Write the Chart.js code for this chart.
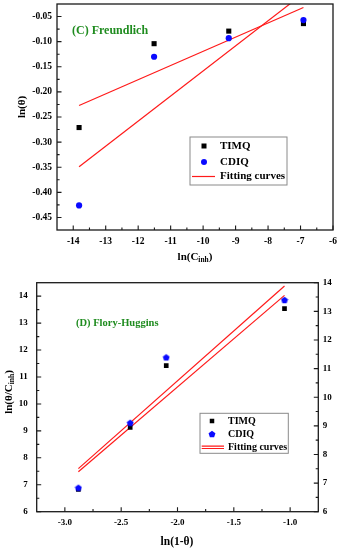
<!DOCTYPE html>
<html>
<head>
<meta charset="utf-8">
<script src="https://cdn.jsdelivr.net/npm/chart.js@4.4.1/dist/chart.umd.min.js"></script>
<style>
  html, body { margin:0; padding:0; background:#fff; }
  #w1 { position:absolute; left:0; top:0; width:342px; height:265px; }
  #w2 { position:absolute; left:0; top:265px; width:342px; height:285px; }
  canvas { display:block; }
</style>
</head>
<body>
<div id="w1"><canvas id="c1" width="342" height="265"></canvas></div>
<div id="w2"><canvas id="c2" width="342" height="285"></canvas></div>
<script>
// ---------- Data: (C) Freundlich ----------
const topX        = [-13.82, -11.51, -9.21, -6.91];
const topTIMQ     = [-0.271, -0.104, -0.079, -0.064];
const topCDIQ     = [-0.426, -0.130, -0.093, -0.057];
const topFitX     = [-13.82, -6.91];
const topFitTIMQ  = [-0.227, -0.032];
const topFitCDIQ  = [-0.349, -0.004];
const topXTicks   = [-14, -13, -12, -11, -10, -9, -8, -7, -6];
const topYTicks   = [-0.45, -0.40, -0.35, -0.30, -0.25, -0.20, -0.15, -0.10, -0.05];

// ---------- Data: (D) Flory-Huggins ----------
const botX        = [-2.88, -2.42, -2.10, -1.05];
const botTIMQ     = [6.83, 9.13, 11.42, 13.54];
const botCDIQ     = [6.89, 9.30, 11.73, 13.86];
const botFitX     = [-2.88, -1.05];
const botFitTIMQ  = [7.48, 14.03];
const botFitCDIQ  = [7.60, 14.38];
const botXTicks   = [-3.0, -2.5, -2.0, -1.5, -1.0];
const botYTicks   = [6, 7, 8, 9, 10, 11, 12, 13, 14];
const botY2Ticks  = [6, 7, 8, 9, 10, 11, 12, 13, 14];

const seriesNames = ['TIMQ', 'CDIQ', 'Fitting curves'];

const SERIF = '"Liberation Serif", "Times New Roman", serif';
const GREEN = '#1f8c1f';
const BLUE = '#0a0aff';
const RED = '#ff1a1a';

function pts(xs, ys) { return xs.map((x, i) => ({ x: x, y: ys[i] })); }

// pentagon point style for CDIQ in lower chart
const penta = document.createElement('canvas');
penta.width = 8; penta.height = 8;
(function () {
  const c = penta.getContext('2d');
  c.fillStyle = BLUE;
  c.beginPath();
  for (let i = 0; i < 5; i++) {
    const a = -Math.PI / 2 + i * 2 * Math.PI / 5;
    const px = 4 + 3.6 * Math.cos(a), py = 4.3 + 3.6 * Math.sin(a);
    if (i === 0) c.moveTo(px, py); else c.lineTo(px, py);
  }
  c.closePath(); c.fill();
})();

function drawParts(ctx, parts, cx, cy, size) {
  const sub = size * 0.68;
  let w = 0;
  parts.forEach(p => {
    ctx.font = 'bold ' + (p[1] ? sub : size) + 'px ' + SERIF;
    w += ctx.measureText(p[0]).width;
  });
  let x = cx - w / 2;
  ctx.textAlign = 'left';
  ctx.textBaseline = 'middle';
  parts.forEach(p => {
    ctx.font = 'bold ' + (p[1] ? sub : size) + 'px ' + SERIF;
    ctx.fillText(p[0], x, cy + (p[1] ? size * 0.3 : 0));
    x += ctx.measureText(p[0]).width;
  });
}

function minorsBetween(ticks, lo, hi) {
  const out = [];
  const step = ticks[1] - ticks[0];
  for (let v = ticks[0] - step / 2; v <= hi + 1e-9; v += step) {
    if (v > lo + 1e-9 && v < hi - 1e-9) out.push(v);
  }
  return out;
}

function framePlugin(cfg) {
  return {
    id: 'frame',
    afterDraw(chart) {
      const ctx = chart.ctx, a = chart.chartArea;
      ctx.save();
      ctx.strokeStyle = '#1a1a1a';
      ctx.lineWidth = 1.3;
      ctx.strokeRect(a.left, a.top, a.right - a.left, a.bottom - a.top);
      // ticks (inward)
      const major = 4.5, minor = 2.6;
      ctx.lineWidth = 1.1;
      ctx.beginPath();
      Object.values(chart.scales).forEach(s => {
        const t = cfg.ticks[s.id];
        if (!t) return;
        const mins = minorsBetween(t, s.min, s.max);
        const draw = (v, len) => {
          const p = s.getPixelForValue(v);
          if (s.id === 'x') { ctx.moveTo(p, a.bottom); ctx.lineTo(p, a.bottom - len); }
          else if (s.id === 'y') { ctx.moveTo(a.left, p); ctx.lineTo(a.left + len, p); }
          else { ctx.moveTo(a.right, p); ctx.lineTo(a.right - len, p); }
        };
        t.forEach(v => draw(v, major));
        mins.forEach(v => draw(v, minor));
      });
      ctx.stroke();

      // panel title
      ctx.fillStyle = GREEN;
      ctx.font = 'bold ' + cfg.title.size + 'px ' + SERIF;
      ctx.textAlign = 'left'; ctx.textBaseline = 'middle';
      ctx.fillText(cfg.title.text, cfg.title.x, cfg.title.y);

      // axis titles
      ctx.fillStyle = '#000';
      drawParts(ctx, cfg.xTitle.parts, cfg.xTitle.x, cfg.xTitle.y, cfg.xTitle.size);
      ctx.save();
      ctx.translate(cfg.yTitle.x, cfg.yTitle.y);
      ctx.rotate(-Math.PI / 2);
      drawParts(ctx, cfg.yTitle.parts, 0, 0, cfg.yTitle.size);
      ctx.restore();

      // legend
      const L = cfg.legend;
      ctx.strokeStyle = '#8a8a8a';
      ctx.lineWidth = 1;
      ctx.strokeRect(L.x0, L.y0, L.x1 - L.x0, L.y1 - L.y0);
      ctx.font = 'bold ' + L.size + 'px ' + SERIF;
      ctx.textAlign = 'left'; ctx.textBaseline = 'middle';
      ctx.fillStyle = '#000';
      // TIMQ square
      ctx.fillRect(L.cx - L.sq / 2, L.rows[0] - L.sq / 2, L.sq, L.sq);
      ctx.fillText(seriesNames[0], L.tx, L.rows[0]);
      // CDIQ marker
      if (L.penta) {
        ctx.drawImage(penta, L.cx - 4, L.rows[1] - 4);
      } else {
        ctx.fillStyle = BLUE;
        ctx.beginPath(); ctx.arc(L.cx, L.rows[1], 3, 0, Math.PI * 2); ctx.fill();
      }
      ctx.fillStyle = '#000';
      ctx.fillText(seriesNames[1], L.tx, L.rows[1]);
      // fitting curves line(s)
      ctx.strokeStyle = RED; ctx.lineWidth = 1.2;
      ctx.beginPath();
      if (L.double) {
        ctx.moveTo(L.lx0, L.rows[2] - 1.2); ctx.lineTo(L.lx1, L.rows[2] - 1.2);
        ctx.moveTo(L.lx0, L.rows[2] + 1.2); ctx.lineTo(L.lx1, L.rows[2] + 1.2);
      } else {
        ctx.moveTo(L.lx0, L.rows[2]); ctx.lineTo(L.lx1, L.rows[2]);
      }
      ctx.stroke();
      ctx.fillText(seriesNames[2], L.tx, L.rows[2]);
      ctx.restore();
    }
  };
}

function fixedTicks(arr) { return s => { s.ticks = arr.map(v => ({ value: v })); }; }
function fitBox(dim, val) {
  return s => {
    s[dim] = val;
    s.paddingTop = 0; s.paddingBottom = 0; s.paddingLeft = 0; s.paddingRight = 0;
  };
}

const tickFont = (size) => ({ family: SERIF, size: size, weight: 'bold' });

// ---------- Top chart ----------
new Chart(document.getElementById('c1'), {
  type: 'scatter',
  data: {
    datasets: [
      { label: seriesNames[1], data: pts(topX, topCDIQ), pointStyle: 'circle', pointRadius: 3.1,
        backgroundColor: BLUE, borderWidth: 0 },
      { label: seriesNames[0], data: pts(topX, topTIMQ), pointStyle: 'rect', pointRadius: 3.6,
        backgroundColor: '#000', borderWidth: 0 },
      { label: seriesNames[2], data: pts(topFitX, topFitTIMQ), showLine: true, pointRadius: 0,
        borderColor: RED, borderWidth: 1.2 },
      { label: seriesNames[2], data: pts(topFitX, topFitCDIQ), showLine: true, pointRadius: 0,
        borderColor: RED, borderWidth: 1.2 }
    ]
  },
  options: {
    responsive: false, animation: false,
    layout: { padding: { left: 0, right: 9, top: 4, bottom: 0 } },
    plugins: { legend: { display: false }, tooltip: { enabled: false } },
    scales: {
      x: {
        type: 'linear', position: 'bottom', min: -14.5, max: -6,
        afterBuildTicks: fixedTicks(topXTicks), afterFit: fitBox('height', 35),
        grid: { display: false, drawTicks: false }, border: { display: false },
        ticks: { font: tickFont(9.5), color: '#000', padding: 6, maxRotation: 0,
                 callback: v => String(v) }
      },
      y: {
        type: 'linear', position: 'left', min: -0.475, max: -0.025,
        afterBuildTicks: fixedTicks(topYTicks), afterFit: fitBox('width', 57),
        grid: { display: false, drawTicks: false }, border: { display: false },
        ticks: { font: tickFont(9.5), color: '#000', padding: 5,
                 callback: v => v.toFixed(2) }
      }
    }
  },
  plugins: [framePlugin({
    ticks: { x: topXTicks, y: topYTicks },
    title: { text: '(C) Freundlich', x: 72, y: 31, size: 12 },
    xTitle: { parts: [['ln(C', 0], ['inh', 1], [')', 0]], x: 195, y: 257, size: 11 },
    yTitle: { parts: [['ln(θ)', 0]], x: 22, y: 107, size: 11 },
    legend: { x0: 190, y0: 137, x1: 287, y1: 185, rows: [146, 162, 176.5], cx: 204,
              lx0: 192, lx1: 215, tx: 220, size: 11, sq: 5, penta: false, double: false }
  })]
});

// ---------- Bottom chart ----------
new Chart(document.getElementById('c2'), {
  type: 'scatter',
  data: {
    datasets: [
      { label: seriesNames[1], data: pts(botX, botCDIQ), pointStyle: penta, pointRadius: 3.5,
        backgroundColor: BLUE, borderWidth: 0 },
      { label: seriesNames[0], data: pts(botX, botTIMQ), pointStyle: 'rect', pointRadius: 3.3,
        backgroundColor: '#000', borderWidth: 0 },
      { label: seriesNames[2], data: pts(botFitX, botFitTIMQ), showLine: true, pointRadius: 0,
        borderColor: RED, borderWidth: 1.2 },
      { label: seriesNames[2], data: pts(botFitX, botFitCDIQ), showLine: true, pointRadius: 0,
        borderColor: RED, borderWidth: 1.2 }
    ]
  },
  options: {
    responsive: false, animation: false,
    layout: { padding: { left: 0, right: 0, top: 17.7, bottom: 0 } },
    plugins: { legend: { display: false }, tooltip: { enabled: false } },
    scales: {
      x: {
        type: 'linear', position: 'bottom', min: -3.25, max: -0.75,
        afterBuildTicks: fixedTicks(botXTicks), afterFit: fitBox('height', 38.3),
        grid: { display: false, drawTicks: false }, border: { display: false },
        ticks: { font: tickFont(9), color: '#000', padding: 6, maxRotation: 0,
                 callback: v => v.toFixed(1) }
      },
      y: {
        type: 'linear', position: 'left', min: 6, max: 14.5,
        afterBuildTicks: fixedTicks(botYTicks), afterFit: fitBox('width', 36.7),
        grid: { display: false, drawTicks: false }, border: { display: false },
        ticks: { font: tickFont(9), color: '#000', padding: 9, callback: v => String(v) }
      },
      y2: {
        type: 'linear', position: 'right', min: 6, max: 14,
        afterBuildTicks: fixedTicks(botY2Ticks), afterFit: fitBox('width', 23.7),
        grid: { display: false, drawTicks: false }, border: { display: false },
        ticks: { font: tickFont(9), color: '#000', padding: 4.5, callback: v => String(v) }
      }
    }
  },
  plugins: [framePlugin({
    ticks: { x: botXTicks, y: botYTicks, y2: botY2Ticks },
    title: { text: '(D) Flory-Huggins', x: 76, y: 58, size: 10.5 },
    xTitle: { parts: [['ln(1-θ)', 0]], x: 177, y: 277.5, size: 11.5 },
    yTitle: { parts: [['ln(θ/C', 0], ['inh', 1], [')', 0]], x: 9, y: 127, size: 11 },
    legend: { x0: 200, y0: 148.3, x1: 288.3, y1: 188.3, rows: [156, 169, 182.3], cx: 212,
              lx0: 201.7, lx1: 224, tx: 228, size: 10, sq: 4.5, penta: true, double: true }
  })]
});
</script>
</body>
</html>
